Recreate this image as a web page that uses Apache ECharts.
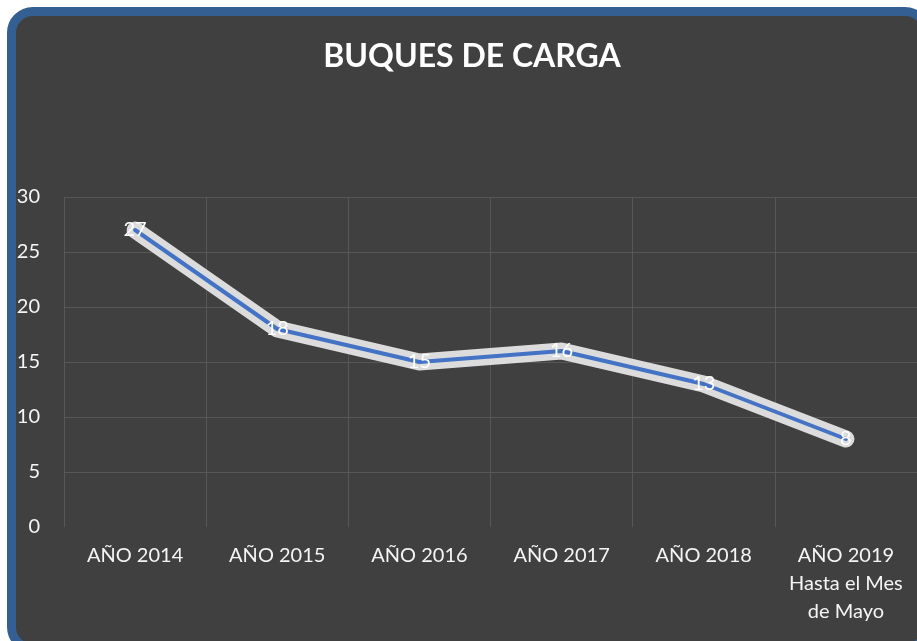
<!DOCTYPE html>
<html>
<head>
<meta charset="utf-8">
<script src="https://cdn.jsdelivr.net/npm/echarts@6/dist/echarts.min.js"></script>
<style>
html,body{margin:0;padding:0;background:#ffffff;width:917px;height:641px;overflow:hidden;}
#frame{position:absolute;left:7px;top:7px;width:906px;height:628px;border:9px solid #345F92;border-radius:26px;background:#404040;box-sizing:content-box;}
#chart{position:absolute;left:0;top:0;width:917px;height:641px;}
</style>
</head>
<body>
<div id="frame"></div>
<div id="chart"></div>
<script>
const categories = ['AÑO 2014', 'AÑO 2015', 'AÑO 2016', 'AÑO 2017', 'AÑO 2018', 'AÑO 2019\nHasta el Mes\nde Mayo'];
const values = [27, 18, 15, 16, 13, 8];
const yTicks = { min: 0, max: 30, interval: 5 };

const chart = echarts.init(document.getElementById('chart'), null, { renderer: 'canvas' });
const font = 'Lato, "Open Sans", sans-serif';
const grid = '#575757';
chart.setOption({
  backgroundColor: 'transparent',
  animation: false,
  title: {
    text: 'BUQUES DE CARGA',
    left: 467, top: 36, textAlign: 'center',
    textStyle: { color: '#ffffff', fontSize: 32, fontWeight: 'bold', fontFamily: font }
  },
  grid: { left: 64, top: 197, width: 855, height: 330, containLabel: false },
  xAxis: {
    type: 'category',
    data: categories,
    boundaryGap: true,
    axisLine: { show: false },
    axisTick: { show: false },
    splitLine: { show: true, lineStyle: { color: grid, width: 1 } },
    axisLabel: { color: '#f5f5f5', fontSize: 20, fontFamily: font, margin: 15, lineHeight: 28, interval: 0, verticalAlign: 'top' }
  },
  yAxis: {
    type: 'value',
    min: yTicks.min, max: yTicks.max, interval: yTicks.interval,
    axisLine: { show: false },
    axisTick: { show: false },
    splitLine: { show: true, lineStyle: { color: ['rgba(0,0,0,0)', grid, grid, grid, grid, grid, grid], width: 1 } },
    axisLabel: { color: '#f5f5f5', fontSize: 20, fontFamily: font, margin: 24 }
  },
  series: [
    {
      type: 'line', data: values, symbol: 'none', silent: true,
      lineStyle: { color: '#dcdcdc', width: 17, cap: 'round', join: 'round' },
      z: 2
    },
    {
      type: 'line', data: values, symbol: 'circle', symbolSize: 1,
      itemStyle: { color: '#4472C4' },
      lineStyle: { color: '#4472C4', width: 4, cap: 'round', join: 'round' },
      label: { show: true, position: 'inside', color: '#ffffff', fontSize: 20, fontFamily: font },
      z: 3
    }
  ]
});
</script>
</body>
</html>
